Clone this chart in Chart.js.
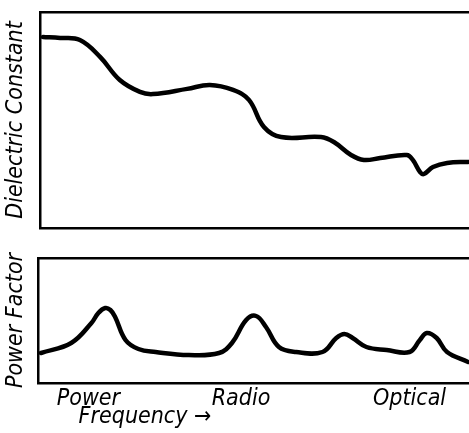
<!DOCTYPE html>
<html>
<head>
<meta charset="utf-8">
<script src="https://cdn.jsdelivr.net/npm/chart.js@4/dist/chart.umd.min.js"></script>
<style>
  html, body { margin: 0; padding: 0; background: #fff; }
  #wrap { position: relative; width: 469px; height: 433px; overflow: hidden; }
  canvas { position: absolute; left: 0; }
</style>
</head>
<body>
<div id="wrap">
  <canvas id="dielectric" width="469" height="240" style="top:0"></canvas>
  <canvas id="powerFactor" width="469" height="193" style="top:240px"></canvas>
</div>
<script>
// frequency axis runs 0..100 (relative, log-ish scale of the sketch)
const dielectricX = [0.7, 4.7, 9.3, 14.0, 18.6, 23.3, 26.3, 34.3, 39.6, 45.0, 48.7, 52.2, 56.2, 65.5, 68.5, 72.5, 75.5, 79.3, 85.5, 86.9, 88.6, 89.5, 91.6, 94.9, 99.8];
const dielectricY = [88.4, 88.0, 87.0, 79.2, 68.5, 63.0, 62.0, 64.4, 66.2, 63.9, 59.3, 46.8, 42.1, 42.1, 39.8, 33.8, 31.5, 32.4, 33.8, 31.5, 25.9, 25.0, 28.2, 30.1, 30.6];

const powerFactorX = [0.7, 7.7, 12.4, 14.0, 15.6, 16.8, 17.9, 20.3, 23.3, 27.3, 35.0, 42.0, 45.0, 48.3, 50.6, 52.9, 55.9, 59.9, 66.0, 69.2, 71.1, 73.0, 76.2, 80.9, 86.2, 88.6, 90.2, 92.5, 94.9, 99.8];
const powerFactorY = [24.0, 32.0, 48.0, 56.0, 60.0, 58.4, 52.8, 34.4, 27.2, 24.8, 22.4, 24.0, 32.0, 50.4, 53.6, 44.8, 28.8, 24.8, 24.8, 36.0, 39.2, 36.0, 28.8, 26.4, 24.8, 34.4, 40.0, 36.0, 24.8, 16.8];

const bandLabels = ['Power', 'Radio', 'Optical'];
const bandValues = [11.7, 47.1, 86.2];

const FONT = "'Liberation Sans Narrow', 'DejaVu Sans Condensed', 'DejaVu Sans', sans-serif";
const ink = '#000';

function points(xs, ys) {
  return xs.map((x, i) => ({ x: x, y: ys[i] }));
}

function lineDataset(xs, ys) {
  return {
    data: points(xs, ys),
    borderColor: ink,
    borderWidth: 4.5,
    pointRadius: 0,
    tension: 0.4,
    borderCapStyle: 'round',
    borderJoinStyle: 'round',
    fill: false
  };
}

function frameAxis(extra) {
  return Object.assign({
    type: 'linear',
    min: 0,
    max: 100,
    grid: { display: false, drawTicks: false },
    border: { display: true, color: ink, width: 2.5 },
    ticks: { display: false }
  }, extra);
}

// top panel
new Chart(document.getElementById('dielectric'), {
  type: 'line',
  data: { datasets: [lineDataset(dielectricX, dielectricY)] },
  options: {
    responsive: false,
    animation: false,
    layout: { padding: { top: 12, right: 0, left: 0, bottom: 0 } },
    plugins: { legend: { display: false }, tooltip: { enabled: false } },
    scales: {
      x: frameAxis({ position: 'bottom', afterFit: s => { s.height = 12; } }),
      xTop: frameAxis({ position: 'top', afterFit: s => { s.height = 0; } }),
      y: frameAxis({
        position: 'left',
        title: { display: true, text: 'Dielectric Constant', color: ink, padding: 2,
                 font: { family: FONT, size: 23, style: 'italic' } },
        afterFit: s => { s.width = 40; }
      })
    }
  }
});

// label under the bottom axis
const frequencyTitle = {
  id: 'frequencyTitle',
  afterDraw(chart) {
    const ctx = chart.ctx;
    ctx.save();
    ctx.fillStyle = ink;
    ctx.font = "italic 23px " + FONT;
    ctx.textAlign = 'center';
    ctx.textBaseline = 'middle';
    ctx.fillText('Frequency \u2192', 145, 177);
    ctx.restore();
  }
};

// bottom panel
new Chart(document.getElementById('powerFactor'), {
  type: 'line',
  data: { datasets: [lineDataset(powerFactorX, powerFactorY)] },
  options: {
    responsive: false,
    animation: false,
    layout: { padding: { top: 18, right: 0, left: 0, bottom: 0 } },
    plugins: { legend: { display: false }, tooltip: { enabled: false } },
    scales: {
      x: frameAxis({
        position: 'bottom',
        ticks: {
          display: true,
          color: ink,
          padding: 2,
          autoSkip: false,
          maxRotation: 0,
          font: { family: FONT, size: 23, style: 'italic' },
          callback: (v, i) => bandLabels[i]
        },
        afterBuildTicks: s => { s.ticks = bandValues.map(v => ({ value: v })); },
        afterFit: s => { s.height = 50; }
      }),
      xTop: frameAxis({ position: 'top', afterFit: s => { s.height = 0; } }),
      y: frameAxis({
        position: 'left',
        title: { display: true, text: 'Power Factor', color: ink, padding: 2,
                 font: { family: FONT, size: 23, style: 'italic' } },
        afterFit: s => { s.width = 38; }
      })
    }
  },
  plugins: [frequencyTitle]
});
</script>
</body>
</html>
